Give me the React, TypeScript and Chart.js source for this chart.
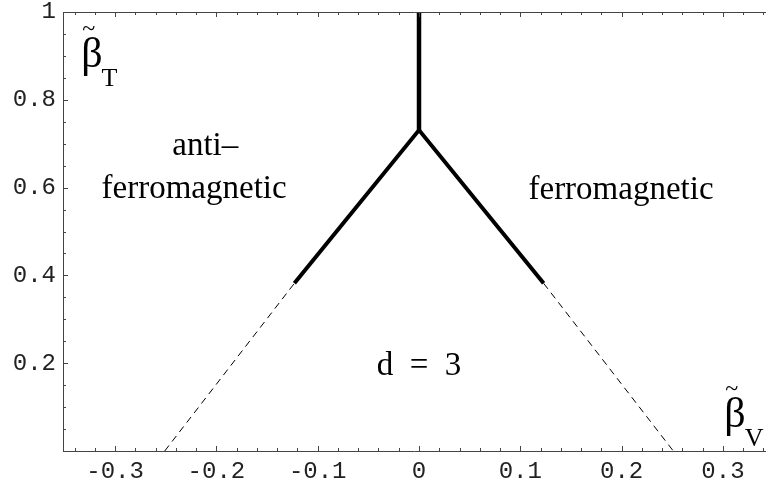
import React, { useEffect, useRef } from "react";
import { Chart, registerables } from "chart.js";

Chart.register(...registerables);

// Axis ticks
const xTickValues = [-0.3, -0.2, -0.1, 0, 0.1, 0.2, 0.3];
const xTickLabels = ["-0.3", "-0.2", "-0.1", "0", "0.1", "0.2", "0.3"];
const yTickValues = [0.2, 0.4, 0.6, 0.8, 1];
const yTickLabels = ["0.2", "0.4", "0.6", "0.8", "1"];

// Phase boundaries (solid = first order, dashed = continuation)
const branchX = [-0.123, 0, 0.123];
const branchY = [0.382, 0.731, 0.382];
const stemX = [0, 0];
const stemY = [0.731, 1];
const dashLeftX = [-0.251, -0.123];
const dashLeftY = [0, 0.382];
const dashRightX = [0.123, 0.251];
const dashRightY = [0.382, 0];

// Region labels
const regionTexts = ["anti\u2013", "ferromagnetic", "ferromagnetic", "d\u2002=\u20023"];
const regionX = [-0.211, -0.222, 0.1994, 0];
const regionY = [0.674, 0.576, 0.574, 0.173];

const pts = (xs: number[], ys: number[]) => xs.map((x, i) => ({ x, y: ys[i] }));

export default function App() {
  const ref = useRef<HTMLCanvasElement>(null);

  useEffect(() => {
    const canvas = ref.current!;
    const framePlugin = {
      id: "frame",
      afterDraw(chart: any) {
        const ctx = chart.ctx;
        const xs = chart.scales.x;
        const ys = chart.scales.y;
        const a = chart.chartArea;
        ctx.save();
        ctx.strokeStyle = "#444";
        ctx.lineWidth = 1;
        ctx.beginPath();
        ctx.moveTo(a.left + 0.5, a.top);
        ctx.lineTo(a.left + 0.5, a.bottom + 0.5);
        ctx.moveTo(a.left, a.bottom + 0.5);
        ctx.lineTo(a.right, a.bottom + 0.5);
        ctx.moveTo(a.left, a.top + 0.5);
        ctx.lineTo(a.right, a.top + 0.5);
        // x minor/major ticks (bottom & top)
        for (let k = -17; k <= 17; k++) {
          const v = k * 0.02;
          const px = Math.round(xs.getPixelForValue(v)) + 0.5;
          if (px < a.left || px > a.right) continue;
          const major = k % 5 === 0;
          const len = major ? 5 : 3;
          ctx.moveTo(px, a.bottom);
          ctx.lineTo(px, a.bottom - len);
          ctx.moveTo(px, a.top);
          ctx.lineTo(px, a.top + len);
        }
        // y minor/major ticks
        for (let k = 1; k <= 20; k++) {
          const v = k * 0.05;
          const py = Math.round(ys.getPixelForValue(v)) + 0.5;
          const major = k % 4 === 0;
          const len = major ? 5 : 3;
          ctx.moveTo(a.left, py);
          ctx.lineTo(a.left + len, py);
        }
        ctx.stroke();

        // Region labels
        ctx.fillStyle = "#000";
        ctx.font = '33px "Liberation Serif"';
        ctx.textAlign = "center";
        ctx.textBaseline = "alphabetic";
        regionTexts.forEach((t, i) => {
          ctx.fillText(t, xs.getPixelForValue(regionX[i]), ys.getPixelForValue(regionY[i]));
        });

        // Axis titles: beta with tilde and subscript
        const drawBeta = (left: number, base: number, sub: string) => {
          ctx.textAlign = "left";
          ctx.font = '42px "Liberation Serif"';
          ctx.fillText("\u03b2", left, base);
          const bw = ctx.measureText("\u03b2").width;
          ctx.font = '24px "Liberation Serif"';
          ctx.fillText("~", left + 1, base - 31);
          ctx.font = '26px "Liberation Serif"';
          ctx.fillText(sub, left + bw - 1, base + 19);
        };
        drawBeta(xs.getPixelForValue(-0.3335), ys.getPixelForValue(0.875), "T");
        drawBeta(xs.getPixelForValue(0.3014), ys.getPixelForValue(0.0545), "V");
        ctx.restore();
      },
    };

    const chart = new Chart(canvas, {
      type: "line",
      data: {
        datasets: [
          {
            data: pts(branchX, branchY),
            borderColor: "#000",
            borderWidth: 4,
            pointRadius: 0,
            borderJoinStyle: "miter",
            borderCapStyle: "butt",
          },
          {
            data: pts(stemX, stemY),
            borderColor: "#000",
            borderWidth: 4.5,
            pointRadius: 0,
          },
          {
            data: pts(dashLeftX, dashLeftY),
            borderColor: "#000",
            borderWidth: 1,
            borderDash: [7, 5],
            pointRadius: 0,
          },
          {
            data: pts(dashRightX, dashRightY),
            borderColor: "#000",
            borderWidth: 1,
            borderDash: [7, 5],
            pointRadius: 0,
          },
        ],
      },
      options: {
        animation: false,
        responsive: false,
        devicePixelRatio: 1,
        layout: { padding: { top: 12, left: 0, right: 0, bottom: 0 } },
        plugins: { legend: { display: false }, tooltip: { enabled: false } },
        scales: {
          x: {
            type: "linear",
            min: -0.3514,
            max: 0.3425,
            grid: { display: false, drawTicks: false },
            border: { display: false },
            afterBuildTicks: (s: any) => {
              s.ticks = xTickValues.map((v) => ({ value: v }));
            },
            afterFit: (s: any) => {
              s.height = 33;
              s.paddingLeft = 0;
              s.paddingRight = 0;
              s.paddingTop = 0;
              s.paddingBottom = 0;
            },
            ticks: {
              autoSkip: false,
              maxRotation: 0,
              padding: 6,
              color: "#222",
              font: { family: '"Liberation Mono"', size: 24 },
              callback: (_v: any, i: number) => xTickLabels[i],
            },
          },
          y: {
            type: "linear",
            min: 0,
            max: 1,
            grid: { display: false, drawTicks: false },
            border: { display: false },
            afterBuildTicks: (s: any) => {
              s.ticks = yTickValues.map((v) => ({ value: v }));
            },
            afterFit: (s: any) => {
              s.width = 63;
              s.paddingLeft = 0;
              s.paddingRight = 0;
              s.paddingTop = 0;
              s.paddingBottom = 0;
            },
            ticks: {
              autoSkip: false,
              padding: 7,
              color: "#222",
              font: { family: '"Liberation Mono"', size: 24 },
              callback: (_v: any, i: number) => yTickLabels[i],
            },
          },
        },
      },
      plugins: [framePlugin],
    } as any);
    return () => chart.destroy();
  }, []);

  return (
    <div style={{ position: "absolute", left: 0, top: 0, width: 766, height: 484, background: "#fff" }}>
      <canvas ref={ref} width={766} height={484} style={{ display: "block" }} />
    </div>
  );
}
